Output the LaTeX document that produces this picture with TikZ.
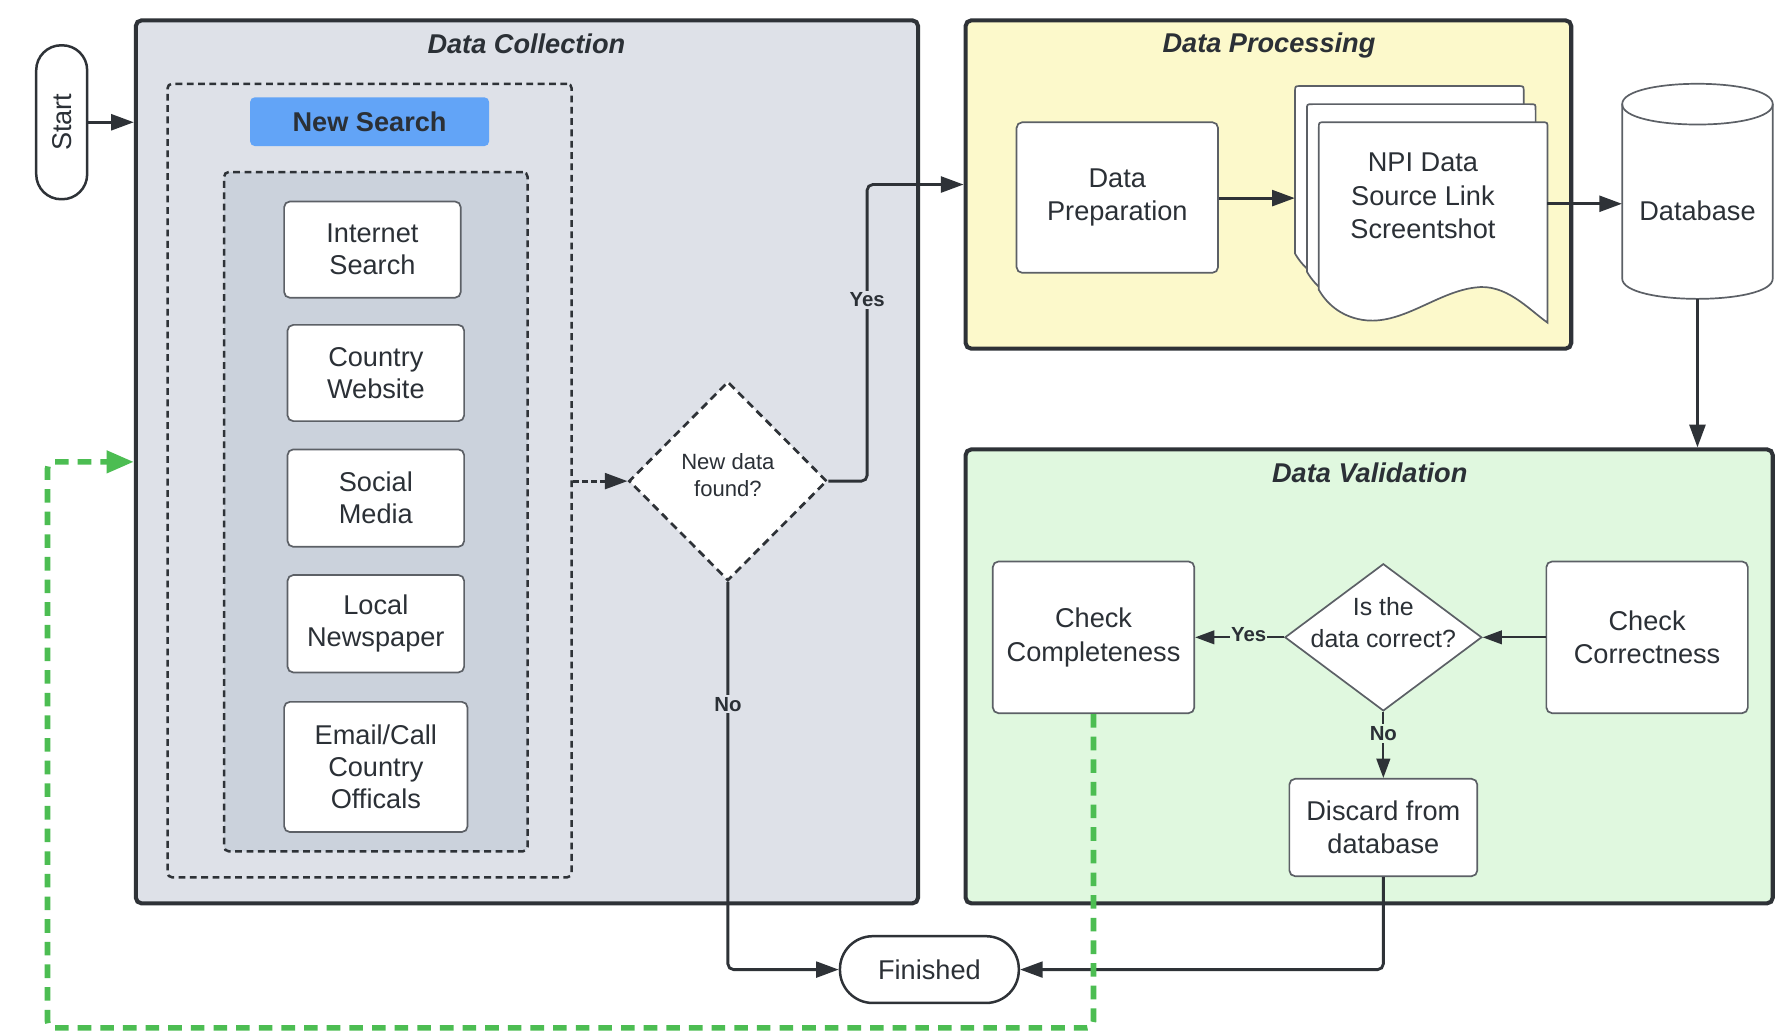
\documentclass[tikz,border=0pt]{standalone}
\usepackage{fontspec}
\setmainfont{Liberation Sans}
\usetikzlibrary{arrows.meta,shapes.geometric,calc}

\definecolor{ink}{HTML}{2B3036}
\definecolor{edge}{HTML}{2E3237}
\definecolor{boxedge}{HTML}{5C6066}
\definecolor{dcfill}{HTML}{DEE1E8}
\definecolor{srcfill}{HTML}{CBD2DC}
\definecolor{searchblue}{HTML}{62A4F7}
\definecolor{dpfill}{HTML}{FCF9CB}
\definecolor{dvfill}{HTML}{E0F8DF}
\definecolor{loopgreen}{HTML}{4CBD52}

\begin{document}
\begin{tikzpicture}[x=1pt,y=-1pt,
  frame/.style={draw=edge, line width=3.6pt, rounded corners=5pt},
  grp/.style={draw=edge, line width=2.2pt, dash pattern=on 6pt off 4pt, rounded corners=4pt},
  stepbox/.style={draw=boxedge, line width=1.5pt, fill=white, rounded corners=5pt,
    font=\fontsize{24}{29.5}\selectfont, text=ink, align=center, inner sep=0pt},
  pill/.style={draw=edge, line width=2.2pt, fill=white,
    font=\fontsize{24}{29.5}\selectfont, text=ink, inner sep=0pt},
  heading/.style={font=\fontsize{24}{29}\selectfont\bfseries\itshape, text=ink},
  conn/.style={draw=edge, line width=2.5pt, -{Triangle[length=20pt,width=14pt]}},
  thinconn/.style={draw=edge, line width=2pt, -{Triangle[length=17pt,width=12pt]}},
  lbl/.style={font=\fontsize{18}{20}\selectfont\bfseries, text=ink, inner sep=2pt},
  every node/.style={text=ink}]

\useasboundingbox (0,0) rectangle (1568,911);
\fill[white] (0,0) rectangle (1568,911);

% ---------- Data Collection ----------
\node[frame, fill=dcfill, minimum width=691, minimum height=780] (dc) at (465.5,408) {};
\node[heading] at (465,39) {Data Collection};

\node[grp, minimum width=357, minimum height=701] (srcgroup) at (326.5,424.5) {};
\node[fill=searchblue, rounded corners=4pt, minimum width=211, minimum height=43,
  font=\fontsize{24}{29}\selectfont\bfseries, inner sep=0pt] (newsearch) at (326.5,107.5) {New Search};
\node[grp, fill=srcfill, minimum width=268, minimum height=600] (sources) at (332,452) {};

\node[stepbox, minimum width=156, minimum height=85] (internet) at (329,220.5) {Internet\\[-1.5pt]Search};
\node[stepbox, minimum width=156, minimum height=85] (country) at (332,329.5) {Country\\[-1.5pt]Website};
\node[stepbox, minimum width=156, minimum height=86] (social) at (332,440) {Social\\[-1.5pt]Media};
\node[stepbox, minimum width=156, minimum height=86] (paper) at (332,551) {Local\\[-1.5pt]Newspaper};
\node[stepbox, minimum width=162, minimum height=115] (email) at (332,677.5) {Email/Call\\[-1pt]Country\\[-1pt]Officals};

\node[diamond, draw=edge, line width=2.4pt, dash pattern=on 7pt off 4.5pt, fill=white,
  minimum width=175, minimum height=176, inner sep=0pt] (found) at (643,425) {};
\node[font=\fontsize{19.5}{24}\selectfont, align=center] at (643,420) {New data\\found?};

% ---------- Start ----------
\node[pill, rounded corners=22pt, minimum width=45, minimum height=136] (start) at (54.5,108)
  {\rotatebox{90}{Start}};

% ---------- Data Processing ----------
\node[frame, fill=dpfill, minimum width=535, minimum height=290] (dp) at (1120.5,163) {};
\node[heading] at (1121,40) {Data Processing};

\node[stepbox, minimum width=178, minimum height=133] (prep) at (987,174.5) {Data\\Preparation};

% stacked documents: back, middle, front sheet
\foreach \ox/\oy in {1144/76, 1154.5/92, 1165/108}{
  \begin{scope}[shift={(\ox,\oy)}]
    \draw[draw=boxedge, line width=1.5pt, fill=white]
      (0,148) -- (0,5) .. controls (0,0) .. (5,0) -- (197,0) .. controls (202,0) .. (202,5)
      -- (202,177) .. controls (185,165) and (165,142) .. (138,146)
      .. controls (105,150) and (75,178) .. (42,175)
      .. controls (22,173) and (8,162) .. (0,148) -- cycle;
  \end{scope}
}
\node[minimum width=223, minimum height=211, inner sep=0pt] (docs) at (1255.5,180.5) {};
\node[font=\fontsize{24}{29.5}\selectfont, align=center] at (1257,173) {NPI Data\\Source Link\\Screentshot};

% ---------- Database ----------
\draw[draw=boxedge, line width=1.5pt, fill=white]
  (1433,92) -- (1433,246) .. controls (1433,270) and (1566,270) .. (1566,246)
  -- (1566,92) .. controls (1566,68) and (1433,68) .. (1433,92) -- cycle;
\draw[draw=boxedge, line width=1.5pt] (1433,92) .. controls (1433,116) and (1566,116) .. (1566,92);
\node[minimum width=133, minimum height=190, inner sep=0pt] (db) at (1499.5,169) {};
\node[font=\fontsize{24}{29.5}\selectfont] at (1499.5,186) {Database};

% ---------- Data Validation ----------
\node[frame, fill=dvfill, minimum width=713, minimum height=401] (dv) at (1209.5,597.5) {};
\node[heading] at (1210,418) {Data Validation};

\node[stepbox, minimum width=178, minimum height=134] (complete) at (966,563) {Check\\Completeness};
\node[stepbox, minimum width=178, minimum height=134] (correct) at (1455,563) {Check\\Correctness};
\node[diamond, draw=boxedge, line width=1.5pt, fill=white,
  minimum width=174, minimum height=130, inner sep=0pt] (ok) at (1222,563) {};
\node[font=\fontsize{22}{28}\selectfont, align=center] at (1222,550) {Is the\\data correct?};
\node[stepbox, minimum width=166, minimum height=86] (discard) at (1222,731) {Discard from\\database};

% ---------- Finished ----------
\node[pill, rounded corners=29pt, minimum width=158, minimum height=59] (fin) at (821,856.5) {Finished};

% ---------- connectors ----------
\draw[conn] (start.east) -- (start.east -| dc.west);
\draw[conn, dash pattern=on 5pt off 3pt] (srcgroup.east |- found.west) -- (found.west);
\draw[conn, rounded corners=5pt] (found.east) -- (766,425) |- (dp.west);
\node[lbl, fill=dcfill] at (766,265) {Yes};
\draw[conn, rounded corners=5pt] (found.south) |- (fin.west);
\node[lbl, fill=dcfill] at (643,622) {No};

\draw[conn] (prep.east |- 0,175) -- (docs.west |- 0,175);
\draw[conn] (1367,180) -- (db.west |- 0,180);
\draw[conn] (db.south) -- (db.south |- dv.north);

\draw[thinconn] (correct.west |- ok.east) -- (ok.east);
\draw[thinconn] (ok.west) -- (complete.east |- ok.west);
\node[lbl, fill=dvfill, inner sep=1pt] at (1103,561) {Yes};
\draw[thinconn] (ok.south) -- (discard.north);
\node[lbl, fill=dvfill] at (1222,648) {No};
\draw[conn, rounded corners=5pt] (discard.south) |- (fin.east);

% loop back for a new search
\draw[draw=loopgreen, line width=5pt, dash pattern=on 12pt off 8pt, rounded corners=6pt,
  -{Triangle[length=24pt,width=19pt]}]
  (complete.south) -- (966,908) -- (42,908) -- (42,408) -- (dc.west);

\end{tikzpicture}
\end{document}
